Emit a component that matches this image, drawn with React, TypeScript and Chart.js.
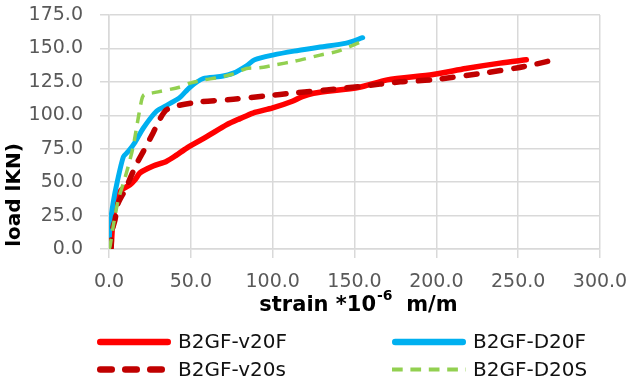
import React, { useEffect, useRef } from "react";
import { Chart, registerables } from "chart.js";

Chart.register(...registerables);

// ---- data ----
const seriesNames = ["B2GF-v20F", "B2GF-D20F", "B2GF-v20s", "B2GF-D20S"];
const seriesColors = ["#ff0000", "#00b0f0", "#c00000", "#92d050"];

const v20F_x = [0, 1.2, 2, 3.7, 5.5, 7.7, 12.8, 16, 19, 27, 35, 41, 47.5, 59.7, 72, 80, 88, 100, 112, 118, 125, 153, 170, 198, 218, 239, 255];
const v20F_y = [0, 1, 15, 32, 40, 44.4, 48, 52, 57, 62, 65.5, 70, 75.5, 84, 93, 97.5, 101.7, 105.5, 110.5, 114, 116.5, 121, 126.5, 130.5, 135, 139, 141.5];

const D20F_x = [0, 0.6, 2.6, 5, 8.8, 11.8, 16, 21, 29, 36, 43, 49.5, 57.6, 68, 76, 84, 89, 100, 113, 129, 145, 155];
const D20F_y = [0, 17, 35, 50, 69, 73, 80, 90.5, 103, 108, 113, 121, 127.5, 129, 131.5, 137, 141.5, 145, 148, 151, 154, 158];

const v20s_x = [0, 1.2, 1.6, 3.7, 5.5, 9.8, 13.9, 17, 21, 27, 31, 35, 41, 55.6, 76, 96, 113, 133, 153, 178, 198, 229, 249, 259, 268];
const v20s_y = [0, 0, 12, 22, 34, 44, 55.6, 64, 73, 87, 97, 104, 107, 110, 112, 114.5, 116.7, 119, 121.5, 125, 126.6, 131.6, 135.4, 137.8, 140.3];

const D20S_x = [0, 0.6, 3, 5.7, 9, 11.8, 14.8, 17, 20, 21.5, 30, 43, 49.5, 58, 66, 76, 84, 92, 102, 113, 129, 140, 154];
const D20S_y = [0, 2, 20, 37, 50, 62, 76.7, 92, 111.7, 115.4, 117.5, 121, 124, 126.5, 128, 131, 135, 135.5, 137.8, 140.3, 145, 148, 155];

const xMin = 0, xMax = 300, xStep = 50;
const yMin = 0, yMax = 175, yStep = 25;
const xTitleMain = "strain *10";
const xTitleSup = "-6";
const xTitleEnd = "  m/m";
const yTitle = "load lKN)";

const pts = (xs: number[], ys: number[]) => xs.map((x, i) => ({ x, y: ys[i] }));

// ---- styles ----
const widths = [5.5, 5, 5.5, 3.5];
const dashes: number[][] = [[], [], [11, 13], [10.5, 8]];
const caps: CanvasLineCap[] = ["round", "round", "round", "butt"];

const overlay = {
  id: "overlay",
  afterDraw(chart: any) {
    const ctx: CanvasRenderingContext2D = chart.ctx;
    const a = chart.chartArea;
    // y title
    ctx.save();
    ctx.fillStyle = "#000";
    ctx.font = "bold 20px 'DejaVu Sans'";
    ctx.translate(15, 195);
    ctx.rotate(-Math.PI / 2);
    ctx.textAlign = "center";
    ctx.textBaseline = "middle";
    ctx.fillText(yTitle, 0, 0);
    ctx.restore();

    // x title
    ctx.save();
    ctx.fillStyle = "#000";
    ctx.textBaseline = "alphabetic";
    ctx.textAlign = "left";
    const mainFont = "bold 21px 'DejaVu Sans'";
    const supFont = "bold 14px 'DejaVu Sans'";
    ctx.font = mainFont;
    const w1 = ctx.measureText(xTitleMain).width;
    const w3 = ctx.measureText(xTitleEnd).width;
    ctx.font = supFont;
    const w2 = ctx.measureText(xTitleSup).width;
    const total = w1 + w2 + w3;
    let x = (a.left + a.right) / 2 + 4 - total / 2;
    const base = 311;
    ctx.font = mainFont;
    ctx.fillText(xTitleMain, x, base);
    x += w1;
    ctx.font = supFont;
    ctx.fillText(xTitleSup, x + 1, base - 11);
    x += w2;
    ctx.font = mainFont;
    ctx.fillText(xTitleEnd, x, base);
    ctx.restore();

    // legend
    const items = [
      { i: 0, x0: 97, y: 342 },
      { i: 1, x0: 392, y: 342 },
      { i: 2, x0: 97, y: 369.5 },
      { i: 3, x0: 392, y: 369.5 },
    ];
    const legW = [6.5, 6.5, 6.5, 4];
    const legDash: number[][] = [[], [], [11.5, 13.5], [10.7, 7.7]];
    for (const it of items) {
      ctx.save();
      ctx.strokeStyle = seriesColors[it.i];
      ctx.lineWidth = legW[it.i];
      ctx.lineCap = caps[it.i];
      ctx.setLineDash(legDash[it.i]);
      ctx.beginPath();
      const x0 = it.x0 + (caps[it.i] === "round" ? legW[it.i] / 2 : 0);
      ctx.moveTo(x0, it.y);
      ctx.lineTo(it.x0 + 74 - (caps[it.i] === "round" ? legW[it.i] / 2 : 0), it.y);
      ctx.stroke();
      ctx.restore();
      ctx.save();
      ctx.fillStyle = "#111";
      ctx.font = "20px 'DejaVu Sans'";
      ctx.textBaseline = "middle";
      ctx.textAlign = "left";
      ctx.fillText(seriesNames[it.i], it.x0 + 81, it.y + 1);
      ctx.restore();
    }
  },
};

const drawOrder = [3, 2, 1, 0];
const xs = [v20F_x, D20F_x, v20s_x, D20S_x];
const ys = [v20F_y, D20F_y, v20s_y, D20S_y];

export default function App() {
  const ref = useRef<HTMLCanvasElement>(null);
  useEffect(() => {
    if (!ref.current) return;
    const chart = new Chart(ref.current, {
      type: "line",
      data: {
        datasets: drawOrder.map((i) => ({
          label: seriesNames[i],
          data: pts(xs[i], ys[i]),
          borderColor: seriesColors[i],
          backgroundColor: seriesColors[i],
          borderWidth: widths[i],
          borderDash: dashes[i],
          borderCapStyle: caps[i],
          borderJoinStyle: "round",
          pointRadius: 0,
          tension: 0.25,
          fill: false,
        })),
      },
      options: {
        animation: false,
        responsive: true,
        maintainAspectRatio: false,
        layout: { padding: { left: 0, top: 15, right: 30, bottom: 98 } },
        plugins: { legend: { display: false }, tooltip: { enabled: false } },
        scales: {
          x: {
            type: "linear",
            min: xMin,
            max: xMax,
            afterFit: (s: any) => { s.height = 40; s.paddingLeft = 0; s.paddingRight = 0; },
            ticks: {
              stepSize: xStep,
              color: "#595959",
              font: { family: "'DejaVu Sans'", size: 19 },
              padding: 13,
              maxRotation: 0,
              callback: (v: any) => Number(v).toFixed(1),
            },
            grid: { color: "#d9d9d9", lineWidth: 1.5, tickLength: 9 },
            border: { color: "#d9d9d9", width: 1.5 },
          },
          y: {
            type: "linear",
            min: yMin,
            max: yMax,
            afterFit: (s: any) => { s.width = 109; s.paddingTop = 0; s.paddingBottom = 0; },
            ticks: {
              stepSize: yStep,
              color: "#595959",
              font: { family: "'DejaVu Sans'", size: 19 },
              padding: 17,
              callback: (v: any) => Number(v).toFixed(1),
            },
            grid: { color: "#d9d9d9", lineWidth: 1.5, tickLength: 9 },
            border: { color: "#d9d9d9", width: 1.5 },
          },
        },
      },
      plugins: [overlay],
    });
    return () => chart.destroy();
  }, []);
  return (
    <div style={{ position: "fixed", left: 0, top: 0, width: 630, height: 387, background: "#fff" }}>
      <canvas ref={ref} />
    </div>
  );
}
